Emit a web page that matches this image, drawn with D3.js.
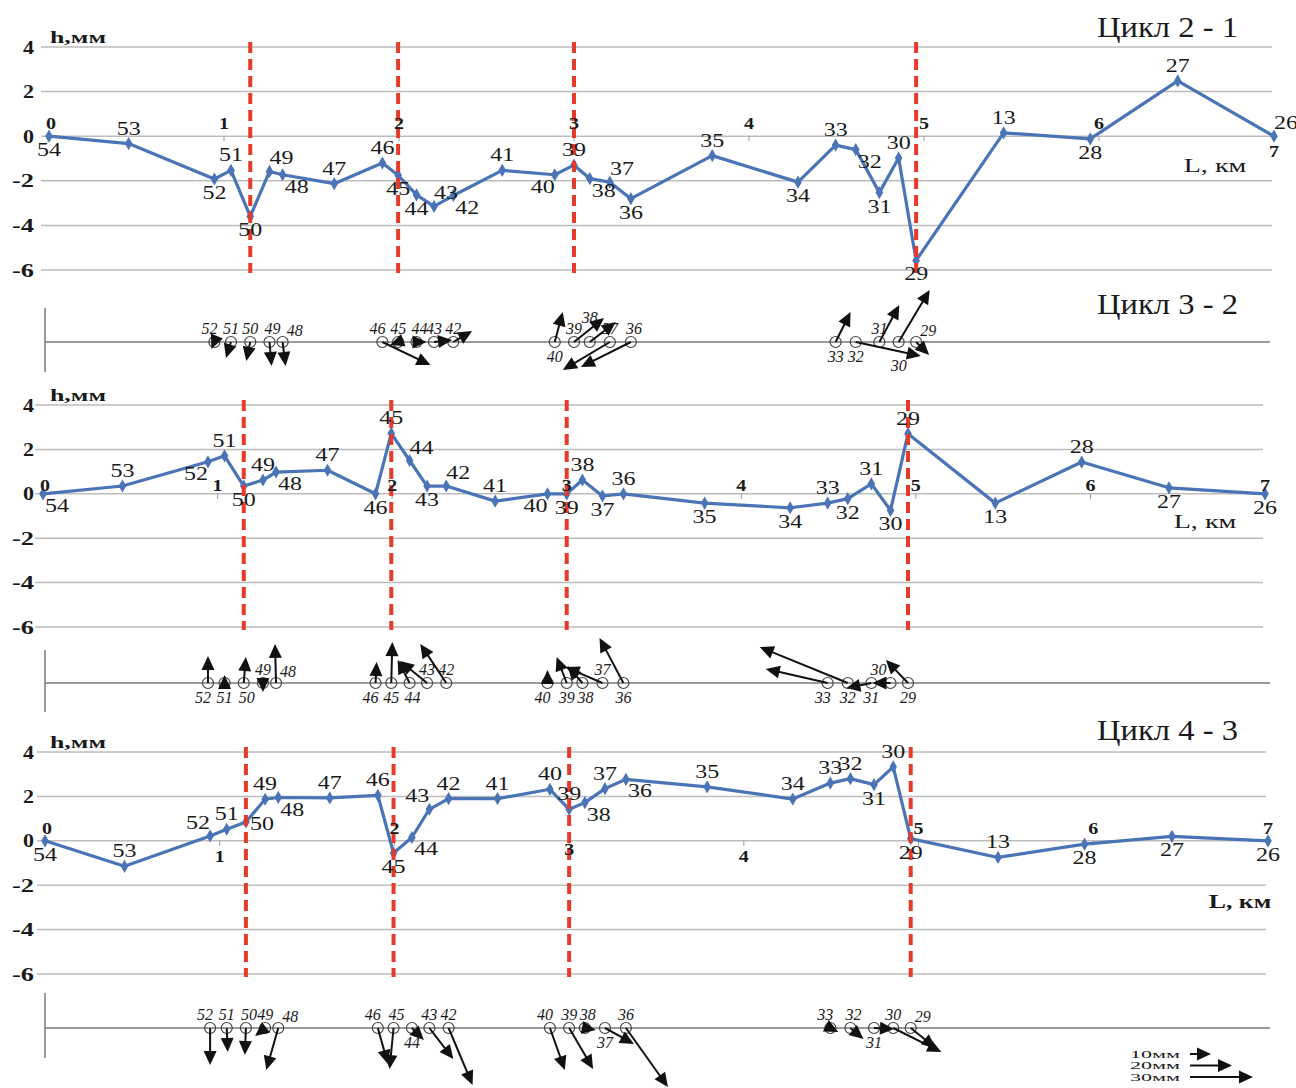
<!DOCTYPE html>
<html>
<head>
<meta charset="utf-8">
<script src="https://cdn.jsdelivr.net/npm/d3@7"></script>
<style>
body { margin: 0; background: #fff; }
text { font-family: "Liberation Serif", "Times New Roman", serif; fill: #1a1a1a; }
</style>
</head>
<body>
<svg width="1296" height="1088"></svg>
<script>
// пункты нивелирного хода и их положение по трассе (км)
var stations = ["54","53","52","51","50","49","48","47","46","45","44","43","42","41","40","39","38","37","36","35","34","33","32","31","30","29","13","28","27","26"];
var stationKm = [0,0.455,0.945,1.04,1.15,1.26,1.335,1.63,1.905,1.995,2.1,2.2,2.31,2.59,2.89,3.0,3.09,3.205,3.325,3.79,4.28,4.495,4.61,4.745,4.855,4.955,5.455,5.95,6.45,7.0];

// превышения h, мм по циклам
var h21 = [0,-0.33,-1.92,-1.53,-3.6,-1.58,-1.73,-2.13,-1.2,-1.75,-2.63,-3.15,-2.66,-1.53,-1.73,-1.3,-1.9,-2.06,-2.8,-0.87,-2.06,-0.4,-0.6,-2.53,-0.98,-5.57,0.15,-0.12,2.48,0];
var h32 = [0,0.35,1.44,1.71,0.35,0.62,0.98,1.06,0,2.72,1.5,0.35,0.35,-0.33,0,0,0.62,-0.1,0,-0.42,-0.63,-0.42,-0.22,0.45,-0.75,2.71,-0.42,1.43,0.27,0];
var h43 = [0,-1.15,0.22,0.52,0.85,1.87,1.95,1.93,2.05,-0.55,0.15,1.42,1.9,1.9,2.32,1.42,1.72,2.35,2.77,2.43,1.88,2.6,2.8,2.53,3.33,0.1,-0.75,-0.15,0.2,0];

var kmTicks = [0,1,2,3,4,5,6,7];
var hTicks = [4,2,0,-2,-4,-6];
var faultStations = ["50","45","39","29"]; // красные пунктирные линии

// горизонтальные смещения пунктов, мм (восток, север)
var vecStations = ["52","51","50","49","48","46","45","44","43","42","40","39","38","37","36","33","32","31","30","29"];
var dE21 = [-1.4,-2.4,-1.9,1.0,1.4,22.9,-3.8,4.8,8.6,9.0,3.8,14.3,12.4,-22.4,-23.8,7.1,31.0,9.5,14.8,6.2];
var dN21 = [-3.3,-7.6,-9.0,-11.4,-11.4,-11.0,-1.4,0,1.0,5.2,14.3,11.4,9.5,-13.3,-11.9,14.3,-6.7,17.6,24.8,-6.2];
var dE32 = [0,0,1.0,0,-0.5,0.5,0.5,-5.7,-12.9,-12.4,0,-4.8,-7.1,-17.6,-11.4,-29.5,-41.9,-11.9,-8.6,-10.5];
var dN32 = [12.9,3.8,12.4,-4.3,18.6,10.0,19.5,11.0,10.5,18.6,6.2,12.4,8.1,7.6,21.4,6.7,17.1,-2.4,0,11.0];
var dE43 = [0,0.5,-0.5,-4.8,-5.7,4.8,-1.9,5.7,11.4,11.4,7.1,11.4,5.2,13.8,20.0,3.8,6.2,9.5,22.9,11.9];
var dN43 = [-17.6,-11.4,-12.9,-3.8,-20.0,-17.1,-19.5,-5.7,-14.8,-27.1,-20.0,-19.5,-1.0,-7.6,-28.1,-1.9,-5.2,-0.5,-11.4,-9.5];

var legendMm = [10,20,30];

// размещение подписей (код -> смещение)
var labOff = {
    n: [0,-9], s: [0,20], ne: [12,-7], se: [14,18], sw: [-12,18], nw: [-12,-7], e: [16,8]
};
var vecOff = {
    n: [0,-8], n2: [0,-19], s: [0,20], s2: [0,29], ne: [12,-6], nw: [-12,-8],
    w: [-5,-8], ws: [-5,20], e: [3,-8], es: [3,20]
};
var kmOff = { n: -7, s: 21, o: -3, m: 14 };

var panels = [
    { title: "Цикл 2 - 1", titleY: 37, x: [49,1274], y: [47,270], h: h21, dE: dE21, dN: dN21,
      vecY: 342, vecBar: [308,372], L: [1215,172], Lbold: false,
      labs: "s n s n s ne se n n s s ne se n sw n se ne s n s n se s n s n s n ne",
      kmLabs: "n n n n n n n s",
      vecLabs: "w n n e ne w n e n n s n n2 n e s s n s2 ne" },
    { title: "Цикл 3 - 2", titleY: 314, x: [43,1265], y: [405,627], h: h32, dE: dE32, dN: dN32,
      vecY: 683, vecBar: [650,712], L: [1205,528], Lbold: false,
      labs: "se n sw n s n se n s n ne s ne n sw s n s n s s n s n s n s n s s",
      kmLabs: "o o o o o o o o",
      vecLabs: "ws s es n ne ws s es n n ws s es n s ws s s nw s" },
    { title: "Цикл 4 - 3", titleY: 740, x: [45,1268], y: [752,974], h: h43, dE: dE43, dN: dN43,
      vecY: 1028, vecBar: [993,1058], L: [1240,908], Lbold: true,
      labs: "s n nw n e n se n n s se nw n n n n se n se n n n n s n s n s s s",
      kmLabs: "n s n m s n n n",
      vecLabs: "w n e n ne w e s n n w n e s n w e s n ne" }
];

var svg = d3.select("svg");
var mmScale = d3.scaleLinear().domain([0, 30]).range([0, 63]); // длина стрелки

// растягиваем текст по ширине, как в оригинале
function wide(sel, perChar) {
    sel.attr("textLength", function () { return this.textContent.length * perChar; })
        .attr("lengthAdjust", "spacingAndGlyphs");
    return sel;
}

function drawArrow(g, x, y, dx, dy) {
    var len = Math.hypot(dx, dy);
    if (!len) return;
    var ux = dx / len, uy = dy / len, hl = 14, hw = 6.5;
    var tx = x + dx, ty = y + dy;
    var bx = tx - ux * hl, by = ty - uy * hl;
    if (len > hl) {
        g.append("line").attr("x1", x).attr("y1", y).attr("x2", bx + ux * 2).attr("y2", by + uy * 2)
            .attr("stroke", "#111").attr("stroke-width", 2);
    }
    g.append("path")
        .attr("d", "M" + tx + "," + ty + "L" + (bx - uy * hw) + "," + (by + ux * hw) + "L" + (bx + uy * hw) + "," + (by - ux * hw) + "Z")
        .attr("fill", "#111");
}

panels.forEach(function (p) {
    var x = d3.scaleLinear().domain([0, 7]).range(p.x);
    var y = d3.scaleLinear().domain([4, -6]).range(p.y);
    var g = svg.append("g");
    var labs = p.labs.split(" "), kmLabs = p.kmLabs.split(" "), vecLabs = p.vecLabs.split(" ");

    // сетка
    g.append("g").selectAll("line").data(hTicks).enter().append("line")
        .attr("x1", p.x[0] - 8).attr("x2", p.x[1] - 2)
        .attr("y1", function (d) { return y(d); }).attr("y2", function (d) { return y(d); })
        .attr("stroke", "#bdbdbd").attr("stroke-width", 1.5);

    // ось Y
    wide(g.append("g").selectAll("text").data(hTicks).enter().append("text")
        .attr("x", 34).attr("y", function (d) { return y(d); }).attr("dy", "0.35em")
        .attr("text-anchor", "end").attr("font-weight", "bold").attr("font-size", 19)
        .text(function (d) { return d; }), 11);
    wide(g.append("text").attr("x", 50).attr("y", y(4) - 4)
        .attr("font-weight", "bold").attr("font-size", 17).text("h,мм"), 14);

    // засечки км
    g.append("g").selectAll("line").data(kmTicks.slice(1, 7)).enter().append("line")
        .attr("x1", function (d) { return x(d); }).attr("x2", function (d) { return x(d); })
        .attr("y1", y(0)).attr("y2", y(0) + 5).attr("stroke", "#999").attr("stroke-width", 1);

    // профиль
    var line = d3.line().x(function (d, i) { return x(stationKm[i]); }).y(function (d) { return y(d); });
    g.append("path").datum(p.h).attr("d", line)
        .attr("fill", "none").attr("stroke", "#4a74b6").attr("stroke-width", 3.2).attr("stroke-linejoin", "round");
    g.append("g").selectAll("path").data(p.h).enter().append("path")
        .attr("d", d3.symbol().type(d3.symbolDiamond).size(50))
        .attr("transform", function (d, i) { return "translate(" + x(stationKm[i]) + "," + y(d) + ")"; })
        .attr("fill", "#4a74b6");

    // разломы
    g.append("g").selectAll("line").data(faultStations).enter().append("line")
        .attr("x1", function (d) { return x(stationKm[stations.indexOf(d)]); })
        .attr("x2", function (d) { return x(stationKm[stations.indexOf(d)]); })
        .attr("y1", p.y[0] - 5).attr("y2", p.y[1] + 3)
        .attr("stroke", "#e63a2a").attr("stroke-width", 4).attr("stroke-dasharray", "11,6");

    // подписи пунктов
    wide(g.append("g").selectAll("text").data(p.h).enter().append("text")
        .attr("x", function (d, i) { return x(stationKm[i]) + labOff[labs[i]][0]; })
        .attr("y", function (d, i) { return y(d) + labOff[labs[i]][1]; })
        .attr("text-anchor", "middle").attr("font-size", 19)
        .text(function (d, i) { return stations[i]; }), 12);

    // подписи км
    wide(g.append("g").selectAll("text").data(kmTicks).enter().append("text")
        .attr("x", function (d) { return x(d) + (d === 0 ? 2 : 0); })
        .attr("y", function (d, i) { return y(0) + kmOff[kmLabs[i]]; })
        .attr("text-anchor", "middle").attr("font-weight", "bold").attr("font-size", 17)
        .text(function (d) { return d; }), 10);

    wide(g.append("text").attr("x", p.L[0]).attr("y", p.L[1]).attr("text-anchor", "middle")
        .attr("font-size", 19).attr("font-weight", p.Lbold ? "bold" : "normal").text("L, км"), 12.5);

    g.append("text").attr("x", 1238).attr("y", p.titleY).attr("text-anchor", "end")
        .attr("font-size", 30).attr("textLength", 141).attr("lengthAdjust", "spacingAndGlyphs")
        .text(p.title);

    // векторы смещений
    var v = svg.append("g");
    v.append("line").attr("x1", 45).attr("x2", 1270).attr("y1", p.vecY).attr("y2", p.vecY)
        .attr("stroke", "#7a7a7a").attr("stroke-width", 1.5);
    v.append("line").attr("x1", 45).attr("x2", 45).attr("y1", p.vecBar[0]).attr("y2", p.vecBar[1])
        .attr("stroke", "#7a7a7a").attr("stroke-width", 1.5);
    vecStations.forEach(function (s) {
        var cx = x(stationKm[stations.indexOf(s)]);
        v.append("circle").attr("cx", cx).attr("cy", p.vecY).attr("r", 5.5)
            .attr("fill", "none").attr("stroke", "#444").attr("stroke-width", 1.2);
    });
    vecStations.forEach(function (s, i) {
        var cx = x(stationKm[stations.indexOf(s)]);
        drawArrow(v, cx, p.vecY, mmScale(p.dE[i]), -mmScale(p.dN[i]));
        var o = vecOff[vecLabs[i]];
        v.append("text").attr("x", cx + o[0]).attr("y", p.vecY + o[1])
            .attr("text-anchor", "middle").attr("font-style", "italic").attr("font-size", 16)
            .text(s);
    });
});

// легенда масштаба векторов
var lg = svg.append("g");
legendMm.forEach(function (d, i) {
    var yy = 1054 + i * 11.5;
    lg.append("text").attr("x", 1180).attr("y", yy + 3.5).attr("text-anchor", "end")
        .attr("font-size", 11).attr("textLength", 50).attr("lengthAdjust", "spacingAndGlyphs")
        .text(d + "мм");
    drawArrow(lg, 1190, yy, mmScale(d), 0);
});
</script>
</body>
</html>
